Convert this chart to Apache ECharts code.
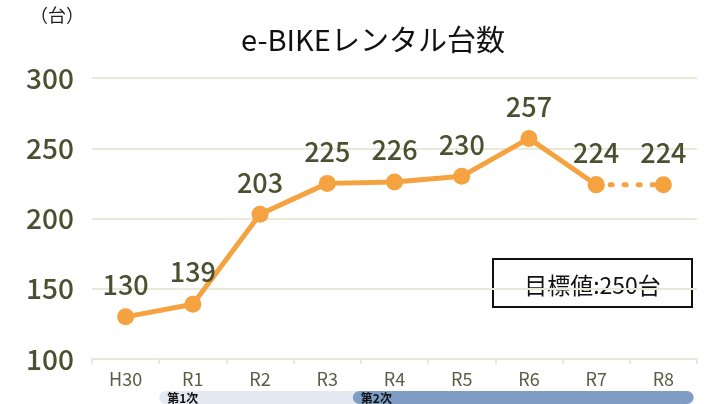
<!DOCTYPE html>
<html>
<head>
<meta charset="utf-8">
<script src="https://cdn.jsdelivr.net/npm/echarts@6/dist/echarts.min.js"></script>
<style>
  html, body { margin: 0; padding: 0; background: #fff; }
  #chart { width: 710px; height: 404px; }
</style>
</head>
<body>
<div id="chart"></div>
<script>
// 年度
const categories = ['H30', 'R1', 'R2', 'R3', 'R4', 'R5', 'R6', 'R7', 'R8'];
// 実績（R8 は見込み）
const actual = [130, 139, 203, 225, 226, 230, 257, 224, '-'];
const forecast = ['-', '-', '-', '-', '-', '-', '-', 224, 224];
const yTicks = { min: 100, max: 300, interval: 50 };
// 計画期間（カテゴリ位置で指定）
const periods = [
  { name: '第1次', start: 1, end: 4, color: '#e3e8f1' },
  { name: '第2次', start: 3.88, end: 8.95, color: '#7f9dc4' }
];
const target = '目標値:250台';

const FONT = '"Noto Sans CJK JP", "Noto Sans", sans-serif';
const ORANGE = '#f5a241';
const OLIVE = '#4b5130';

const chart = echarts.init(document.getElementById('chart'));

const option = {
  animation: false,
  textStyle: { fontFamily: FONT },
  title: {
    text: 'e-BIKEレンタル台数',
    left: 368,
    top: 20,
    textAlign: 'center',
    textStyle: { fontSize: 29, fontWeight: 'normal', color: '#111', fontFamily: FONT }
  },
  grid: [
    { left: 92, right: 13, top: 78, bottom: 45 },
    { left: 92, right: 13, top: 391, height: 16 }
  ],
  xAxis: [
    {
      type: 'category',
      gridIndex: 0,
      data: categories,
      boundaryGap: true,
      axisLine: { lineStyle: { color: '#e9e9d9', width: 2 } },
      axisTick: { show: true, lineStyle: { color: '#e9e9d9', width: 2 }, length: 5 },
      axisLabel: { color: '#595d45', fontSize: 18, margin: 11, fontFamily: FONT }
    },
    { type: 'value', gridIndex: 1, min: 0, max: 9, show: false }
  ],
  yAxis: [
    {
      type: 'value',
      gridIndex: 0,
      min: yTicks.min,
      max: yTicks.max,
      interval: yTicks.interval,
      axisLine: { show: false },
      axisTick: { show: false },
      splitLine: { lineStyle: { color: '#e9e9d9', width: 2 } },
      axisLabel: { color: OLIVE, fontSize: 28, fontWeight: 500, margin: 18, fontFamily: FONT }
    },
    { type: 'value', gridIndex: 1, min: 0, max: 1, show: false }
  ],
  graphic: [
    {
      type: 'text',
      left: 30,
      top: 6,
      style: { text: '（台）', fontSize: 18, fill: '#222', fontFamily: FONT }
    },
    {
      type: 'group',
      left: 492,
      top: 258,
      children: [
        {
          type: 'rect',
          shape: { x: 0, y: 0, width: 199, height: 48 },
          style: { fill: '#fff', stroke: '#111', lineWidth: 2 }
        },
        {
          type: 'text',
          x: 99.5,
          y: 26,
          style: {
            text: target,
            fontSize: 23,
            fill: '#111',
            align: 'center',
            verticalAlign: 'middle',
            fontFamily: FONT
          }
        }
      ]
    }
  ],
  series: [
    {
      type: 'line',
      data: actual,
      symbol: 'circle',
      symbolSize: 17,
      lineStyle: { color: ORANGE, width: 5 },
      itemStyle: { color: ORANGE },
      label: {
        show: true,
        position: 'top',
        distance: 10,
        color: OLIVE,
        fontSize: 27,
        fontWeight: 500,
        fontFamily: FONT
      },
      z: 3
    },
    {
      type: 'line',
      data: forecast,
      symbol: 'circle',
      symbolSize: 17,
      lineStyle: { color: ORANGE, width: 5, type: [2, 12], cap: 'round' },
      itemStyle: { color: ORANGE },
      label: {
        show: true,
        position: 'top',
        distance: 10,
        color: OLIVE,
        fontSize: 27,
        fontWeight: 500,
        fontFamily: FONT,
        formatter: p => (p.dataIndex === 8 ? p.value : '')
      },
      z: 2
    },
    {
      type: 'custom',
      xAxisIndex: 1,
      yAxisIndex: 1,
      data: periods.map(p => [p.start, p.end]),
      renderItem: (params, api) => {
        const p = periods[params.dataIndex];
        const a = api.coord([api.value(0), 1]);
        const b = api.coord([api.value(1), 0]);
        const h = b[1] - a[1];
        return {
          type: 'group',
          children: [
            {
              type: 'rect',
              shape: { x: a[0], y: a[1], width: b[0] - a[0], height: h, r: h / 2 },
              style: { fill: p.color }
            },
            {
              type: 'text',
              x: a[0] + 8,
              y: a[1] + 1,
              style: {
                text: p.name,
                fontSize: 12,
                fontWeight: 'bold',
                fill: '#111',
                verticalAlign: 'top',
                fontFamily: FONT
              }
            }
          ]
        };
      },
      silent: true
    }
  ]
};

chart.setOption(option);
</script>
</body>
</html>
